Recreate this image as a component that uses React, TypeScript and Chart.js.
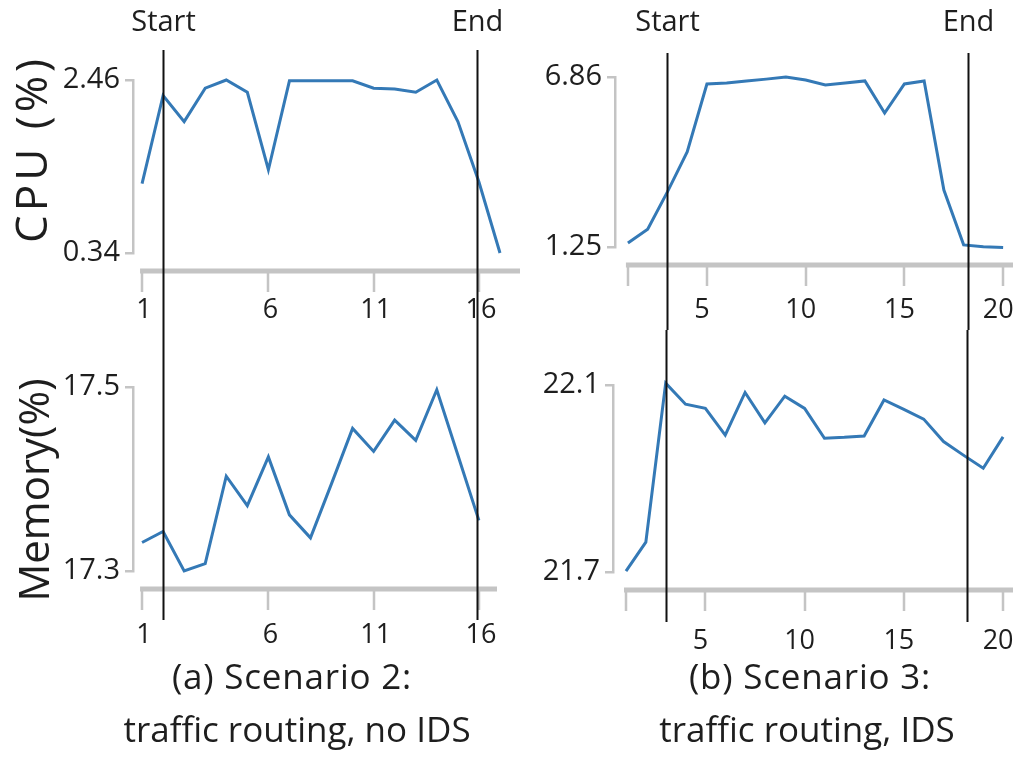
import React, { useEffect, useRef } from "react";
import { Chart, registerables } from "chart.js";

Chart.register(...registerables);

const FONT = "'Open Sans', 'Noto Sans', sans-serif";
Chart.defaults.font.family = FONT;

// ---------- Data ----------
// Scenario 2: traffic routing, no IDS
const s2CpuX = [0, 1, 2, 3, 4, 5, 6, 7, 8, 9, 10, 11, 12, 13, 14, 15, 16, 17];
const s2Cpu = [1.19, 2.27, 1.95, 2.36, 2.46, 2.31, 1.36, 2.45, 2.45, 2.45, 2.45, 2.36, 2.35, 2.31, 2.46, 1.95, 1.21, 0.34];
const s2MemX = [0, 1, 2, 3, 4, 5, 6, 7, 8, 9, 10, 11, 12, 13, 14, 15, 16];
const s2Mem = [17.331, 17.343, 17.3, 17.308, 17.403, 17.371, 17.424, 17.361, 17.336, 17.395, 17.455, 17.43, 17.464, 17.442, 17.497, 17.426, 17.355];
const s2TickValues = [0, 6, 11, 16];
const s2TickLabels = ["1", "6", "11", "16"];
const s2Start = 1;
const s2End = 15.9;
const s2CpuRange = [0.34, 2.46];
const s2MemRange = [17.3, 17.5];

// Scenario 3: traffic routing, IDS
const s3X = [1, 2, 3, 4, 5, 6, 7, 8, 9, 10, 11, 12, 13, 14, 15, 16, 17, 18, 19, 20];
const s3Cpu = [1.38, 1.84, 3.07, 4.39, 6.63, 6.66, 6.73, 6.79, 6.86, 6.76, 6.6, 6.66, 6.73, 5.67, 6.63, 6.73, 3.13, 1.32, 1.26, 1.23];
const s3Mem = [21.702, 21.764, 22.104, 22.059, 22.05, 21.993, 22.084, 22.019, 22.076, 22.05, 21.986, 21.988, 21.991, 22.068, 22.048, 22.027, 21.979, 21.95, 21.922, 21.989];
const s3TickValues = [1, 5, 10, 15, 20];
const s3TickLabels = ["", "5", "10", "15", "20"];
const s3Start = 3;
const s3End = 18.2;
const s3CpuRange = [1.25, 6.86];
const s3MemRange = [21.7, 22.1];

const markerLabels = ["Start", "End"];

// ---------- Styles ----------
const BLUE = "#3479b6";
const GRAY = "#c4c4c4";
const TEXT = "#1e1e1e";

type Panel = {
  left: number; top: number; width: number; height: number;
  xs: number[]; ys: number[];
  xMin: number; xMax: number; tickValues: number[]; tickLabels: string[]; labelShift: number;
  yRange: number[]; yDecimals: number;
  padTop: number; padRight: number; yAxisWidth: number; xAxisHeight: number; labelPad: number;
  markers: number[]; markerTop: number; markerBottom: number; showMarkerLabels: boolean;
};

const decorPlugin = {
  id: "panelDecor",
  afterDraw(chart: any, _args: any, opts: any) {
    const { ctx, chartArea } = chart;
    const x = chart.scales.x;
    const yLine = chartArea.bottom + 18;
    ctx.save();
    // x axis line
    ctx.strokeStyle = GRAY;
    ctx.lineWidth = 5;
    ctx.beginPath();
    const startPx = x.getPixelForValue(opts.tickValues[0]) - 2;
    ctx.moveTo(startPx, yLine);
    ctx.lineTo(chartArea.right, yLine);
    ctx.stroke();
    // tick marks
    ctx.lineWidth = 2.5;
    ctx.beginPath();
    x.ticks.forEach((t: any) => {
      const px = Math.round(x.getPixelForValue(t.value));
      ctx.moveTo(px, yLine);
      ctx.lineTo(px, yLine + 21);
    });
    ctx.stroke();
    // Start / End markers
    ctx.strokeStyle = "#111";
    ctx.lineWidth = 2;
    ctx.fillStyle = TEXT;
    ctx.font = `29px ${FONT}`;
    ctx.textAlign = "center";
    ctx.textBaseline = "middle";
    opts.markers.forEach((v: number, i: number) => {
      const px = Math.round(x.getPixelForValue(v)) + 0.5;
      ctx.beginPath();
      ctx.moveTo(px, opts.markerTop);
      ctx.lineTo(px, opts.markerBottom);
      ctx.stroke();
      if (opts.showMarkerLabels) ctx.fillText(markerLabels[i], px, 23);
    });
    ctx.restore();
  },
};

function ChartPanel({ p }: { p: Panel }) {
  const ref = useRef<HTMLCanvasElement | null>(null);
  useEffect(() => {
    if (!ref.current) return;
    const [yMin, yMax] = p.yRange;
    const chart = new Chart(ref.current, {
      type: "line",
      data: {
        datasets: [
          {
            data: p.xs.map((x, i) => ({ x, y: p.ys[i] })),
            borderColor: BLUE,
            borderWidth: 3,
            pointRadius: 0,
            tension: 0,
            fill: false,
            clip: false as any,
          },
        ],
      },
      options: {
        animation: false,
        responsive: false,
        devicePixelRatio: 1,
        layout: { padding: { top: p.padTop, right: p.padRight, left: 0, bottom: 0 } },
        plugins: {
          legend: { display: false },
          tooltip: { enabled: false },
          panelDecor: {
            tickValues: p.tickValues,
            markers: p.markers,
            markerTop: p.markerTop,
            markerBottom: p.markerBottom,
            showMarkerLabels: p.showMarkerLabels,
          },
        } as any,
        scales: {
          x: {
            type: "linear",
            min: p.xMin,
            max: p.xMax,
            afterBuildTicks: (s: any) => {
              s.ticks = p.tickValues.map((v) => ({ value: v }));
            },
            afterFit: (s: any) => {
              s.height = p.xAxisHeight;
            },
            ticks: {
              autoSkip: false,
              maxRotation: 0,
              padding: 0,
              labelOffset: p.labelShift,
              color: TEXT,
              font: { size: 27, family: FONT },
              callback: (_v: any, i: number) => p.tickLabels[i],
            },
            grid: {
              display: true,
              drawOnChartArea: false,
              drawTicks: true,
              tickLength: p.labelPad,
              color: "rgba(0,0,0,0)",
            },
            border: { display: false },
          },
          y: {
            type: "linear",
            min: yMin,
            max: yMax,
            afterBuildTicks: (s: any) => {
              s.ticks = [{ value: yMin }, { value: yMax }];
            },
            afterFit: (s: any) => {
              s.width = p.yAxisWidth;
            },
            ticks: {
              padding: 5,
              color: TEXT,
              font: { size: 29, family: FONT },
              callback: (v: any) => Number(v).toFixed(p.yDecimals),
            },
            grid: { drawOnChartArea: false, drawTicks: true, tickLength: 8, color: GRAY, lineWidth: 2.5 },
            border: { display: true, color: GRAY, width: 2.5 },
          },
        },
      } as any,
      plugins: [decorPlugin],
    });
    return () => chart.destroy();
  }, [p]);
  return (
    <canvas
      ref={ref}
      width={p.width}
      height={p.height}
      style={{ position: "absolute", left: p.left, top: p.top, width: p.width, height: p.height }}
    />
  );
}

const panels: Panel[] = [
  {
    left: 0, top: 0, width: 530, height: 330,
    xs: s2CpuX, ys: s2Cpu, xMin: -0.43, xMax: 17.95, tickValues: s2TickValues, tickLabels: s2TickLabels, labelShift: 2,
    yRange: s2CpuRange, yDecimals: 2,
    padTop: 80, padRight: 10, yAxisWidth: 133, xAxisHeight: 77, labelPad: 41,
    markers: [s2Start, s2End], markerTop: 50, markerBottom: 330, showMarkerLabels: true,
  },
  {
    left: 500, top: 0, width: 530, height: 330,
    xs: s3X, ys: s3Cpu, xMin: 0.345, xMax: 20.5, tickValues: s3TickValues, tickLabels: s3TickLabels, labelShift: -5,
    yRange: s3CpuRange, yDecimals: 2,
    padTop: 77, padRight: 17, yAxisWidth: 115, xAxisHeight: 83, labelPad: 47,
    markers: [s3Start, s3End], markerTop: 53, markerBottom: 330, showMarkerLabels: true,
  },
  {
    left: 0, top: 330, width: 530, height: 330,
    xs: s2MemX, ys: s2Mem, xMin: -0.43, xMax: 16.86, tickValues: s2TickValues, tickLabels: s2TickLabels, labelShift: 2,
    yRange: s2MemRange, yDecimals: 1,
    padTop: 57, padRight: 33, yAxisWidth: 133, xAxisHeight: 89, labelPad: 48,
    markers: [s2Start, s2End], markerTop: 0, markerBottom: 290, showMarkerLabels: false,
  },
  {
    left: 500, top: 330, width: 530, height: 330,
    xs: s3X, ys: s3Mem, xMin: 0.345, xMax: 20.5, tickValues: s3TickValues, tickLabels: s3TickLabels, labelShift: -5,
    yRange: s3MemRange, yDecimals: 1,
    padTop: 55, padRight: 17, yAxisWidth: 113, xAxisHeight: 88, labelPad: 53,
    markers: [s3Start, s3End], markerTop: 0, markerBottom: 292, showMarkerLabels: false,
  },
];

function Label({
  text, cx, cy, size, rotate, letterSpacing = 0,
}: {
  text: string; cx: number; cy: number; size: number; rotate?: boolean; letterSpacing?: number;
}) {
  return (
    <div
      style={{
        position: "absolute",
        left: cx,
        top: cy,
        transform: `translate(-50%, -50%)${rotate ? " rotate(-90deg)" : ""}`,
        whiteSpace: "nowrap",
        fontFamily: FONT,
        fontSize: size,
        lineHeight: 1,
        letterSpacing,
        color: TEXT,
      }}
    >
      {text}
    </div>
  );
}

export default function App() {
  return (
    <div
      style={{
        position: "absolute",
        left: 0,
        top: 0,
        width: 1017,
        height: 759,
        overflow: "hidden",
        background: "#fff",
      }}
    >
      {panels.map((p, i) => (
        <ChartPanel key={i} p={p} />
      ))}
      <Label text="CPU (%)" cx={30} cy={149} size={44} rotate letterSpacing={4} />
      <Label text="Memory(%)" cx={33} cy={490} size={42} rotate />
      <Label text="(a) Scenario 2:" cx={292} cy={675} size={35} letterSpacing={0.8} />
      <Label text="traffic routing, no IDS" cx={297} cy={728} size={35} />
      <Label text="(b) Scenario 3:" cx={810} cy={675} size={35} letterSpacing={0.8} />
      <Label text="traffic routing, IDS" cx={807} cy={728} size={35} />
    </div>
  );
}
